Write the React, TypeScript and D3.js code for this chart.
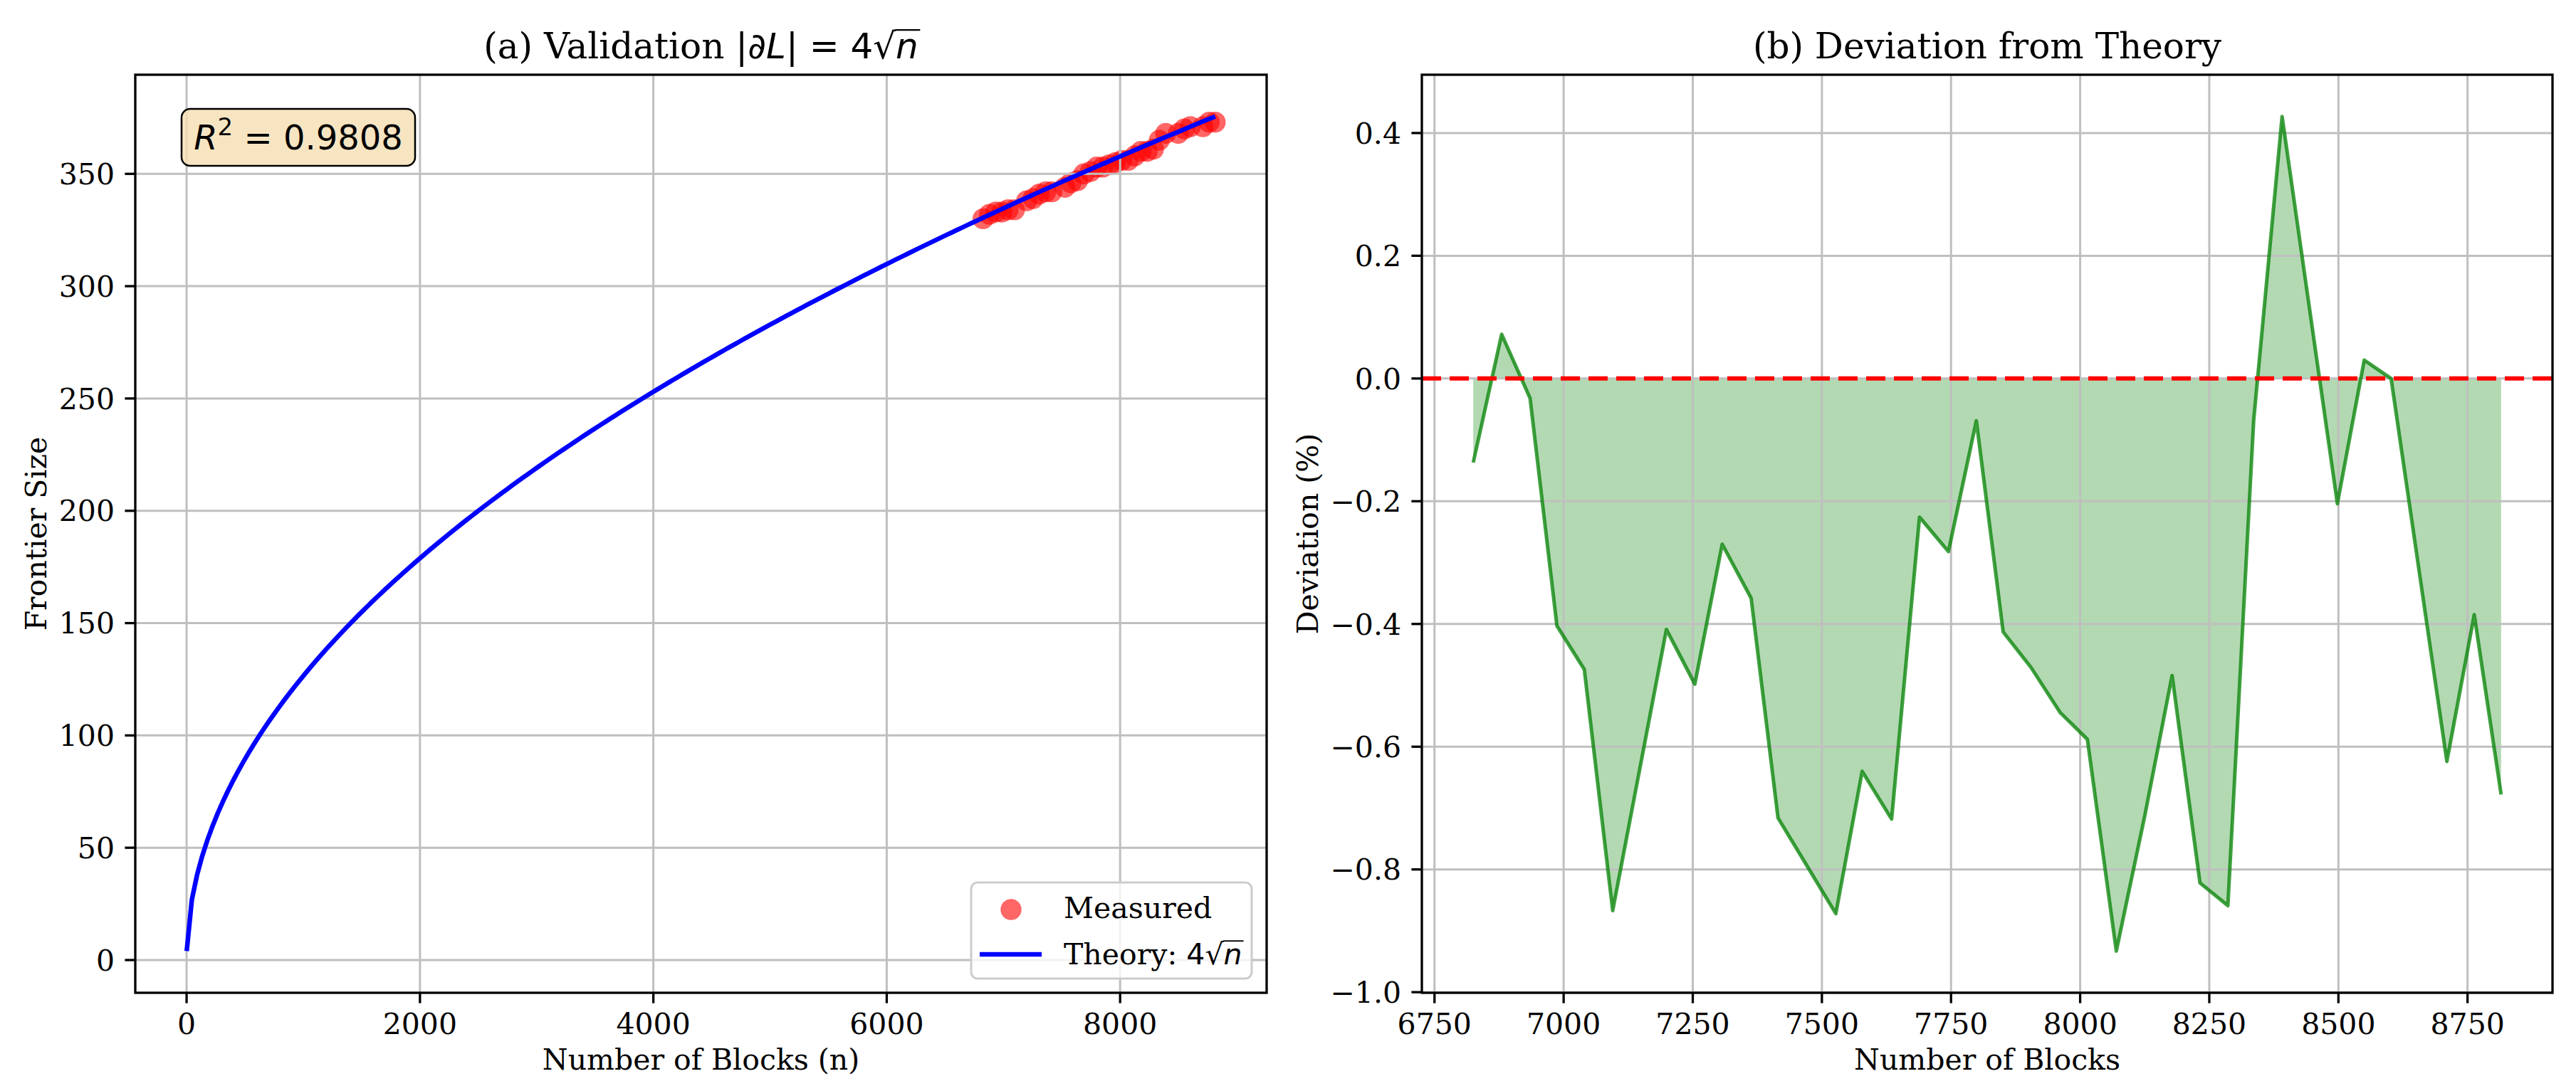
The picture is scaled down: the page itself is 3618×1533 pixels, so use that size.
import * as d3 from 'd3'
import { useEffect, useRef } from 'react'

const W = 3618
const H = 1533

// block counts where the frontier was measured
const blocks = [
  6825, 6880, 6935, 6987, 7040, 7095, 7199, 7254, 7307, 7363, 7415, 7527, 7578, 7635, 7689, 7745, 7799,
  7851, 7905, 7961, 8014, 8070, 8125, 8178, 8232, 8286, 8336, 8391, 8498, 8550, 8602, 8710, 8763, 8815,
]
// measured frontier sizes
const measured = [
  330, 332, 333, 333, 334, 334, 338, 339, 341, 342, 342, 344, 346, 347, 350, 351, 353,
  353, 354, 355, 356, 356, 358, 360, 360, 361, 365, 368, 368, 370, 371, 371, 373, 373,
]
// deviation from theory in percent
const deviation = [
  -0.137, 0.072, -0.032, -0.403, -0.474, -0.867, -0.409, -0.498, -0.27, -0.358, -0.716, -0.872, -0.64,
  -0.718, -0.226, -0.282, -0.069, -0.413, -0.471, -0.544, -0.588, -0.933, -0.713, -0.484, -0.822, -0.859,
  -0.068, 0.427, -0.204, 0.03, 0.0, -0.624, -0.385, -0.678,
]
const leftXTicks = [0, 2000, 4000, 6000, 8000]
const leftYTicks = [0, 50, 100, 150, 200, 250, 300, 350]
const rightXTicks = [6750, 7000, 7250, 7500, 7750, 8000, 8250, 8500, 8750]
const rightYTicks = [-1.0, -0.8, -0.6, -0.4, -0.2, 0.0, 0.2, 0.4]
const r2Text = '0.9808'

// theory curve 4*sqrt(n), sampled like np.linspace(1, n_max, 200)
const nMax = d3.max(blocks) as number
const theoryN = d3.range(200).map(i => 1 + ((nMax - 1) * i) / 199)
const theory = (n: number) => 4 * Math.sqrt(n)

const SERIF = '"DejaVu Serif", "Liberation Serif", serif'
const SANS = '"DejaVu Sans", "Liberation Sans", sans-serif'
const TICK_FS = 41
const LABEL_FS = 41
const TITLE_FS = 50
const GRID = '#bfbfbf'

type Seg = { t: string; fam?: string; it?: boolean; size?: number; dy?: number; over?: boolean }

function rich(
  parent: d3.Selection<SVGGElement, unknown, null, undefined>,
  x: number,
  y: number,
  segs: Seg[],
  size: number,
  anchor: 'start' | 'middle',
) {
  const g = parent.append('g')
  let cx = 0
  let prevRadical = 0
  segs.forEach(s => {
    const fs = s.size ?? size
    const t = g
      .append('text')
      .attr('x', cx)
      .attr('y', s.dy ?? 0)
      .attr('font-family', s.fam ?? SERIF)
      .attr('font-size', fs)
      .attr('font-style', s.it ? 'italic' : 'normal')
      .style('white-space', 'pre')
      .attr('fill', '#000')
      .text(s.t)
    const w = (t.node() as SVGTextElement).getComputedTextLength()
    if (s.over) {
      g.append('line')
        .attr('x1', prevRadical - fs * 0.02)
        .attr('x2', cx + w + fs * 0.05)
        .attr('y1', -fs * 0.8)
        .attr('y2', -fs * 0.8)
        .attr('stroke', '#000')
        .attr('stroke-width', fs * 0.045)
    }
    if (s.t === '√') prevRadical = cx + w
    cx += w
  })
  const off = anchor === 'middle' ? -cx / 2 : 0
  g.attr('transform', `translate(${x + off},${y})`)
  return g
}

function frame(
  g: d3.Selection<SVGGElement, unknown, null, undefined>,
  x: d3.ScaleLinear<number, number>,
  y: d3.ScaleLinear<number, number>,
  xTicks: number[],
  yTicks: number[],
  fx: (v: number) => string,
  fy: (v: number) => string,
) {
  const [x0, x1] = x.range()
  const [y1, y0] = y.range()
  const tickG = g.append('g')
  tickG
    .append('rect')
    .attr('x', x0)
    .attr('y', y0)
    .attr('width', x1 - x0)
    .attr('height', y1 - y0)
    .attr('fill', 'none')
    .attr('stroke', '#000')
    .attr('stroke-width', 3.3)
  xTicks.forEach(t => {
    tickG
      .append('line')
      .attr('x1', x(t))
      .attr('x2', x(t))
      .attr('y1', y1)
      .attr('y2', y1 + 14.6)
      .attr('stroke', '#000')
      .attr('stroke-width', 3.3)
    tickG
      .append('text')
      .attr('x', x(t))
      .attr('y', y1 + 58)
      .attr('text-anchor', 'middle')
      .attr('font-family', SERIF)
      .attr('font-size', TICK_FS)
      .text(fx(t))
  })
  yTicks.forEach(t => {
    tickG
      .append('line')
      .attr('x1', x0 - 14.6)
      .attr('x2', x0)
      .attr('y1', y(t))
      .attr('y2', y(t))
      .attr('stroke', '#000')
      .attr('stroke-width', 3.3)
    tickG
      .append('text')
      .attr('x', x0 - 29)
      .attr('y', y(t))
      .attr('dy', '0.36em')
      .attr('text-anchor', 'end')
      .attr('font-family', SERIF)
      .attr('font-size', TICK_FS)
      .text(fy(t))
  })
}

function grid(
  g: d3.Selection<SVGGElement, unknown, null, undefined>,
  x: d3.ScaleLinear<number, number>,
  y: d3.ScaleLinear<number, number>,
  xTicks: number[],
  yTicks: number[],
) {
  const [x0, x1] = x.range()
  const [y1, y0] = y.range()
  const gg = g.append('g').attr('stroke', GRID).attr('stroke-width', 3)
  xTicks.forEach(t => gg.append('line').attr('x1', x(t)).attr('x2', x(t)).attr('y1', y0).attr('y2', y1))
  yTicks.forEach(t => gg.append('line').attr('x1', x0).attr('x2', x1).attr('y1', y(t)).attr('y2', y(t)))
}

export default function App() {
  const ref = useRef<SVGSVGElement>(null)

  useEffect(() => {
    const svg = d3.select(ref.current)
    svg.selectAll('*').remove()
    const root = svg.append('g') as unknown as d3.Selection<SVGGElement, unknown, null, undefined>

    const top = 105
    const bottom = 1395

    // ---------- (a) validation ----------
    const lx0 = 190
    const lx1 = 1779
    const xlMin = 1
    const xlPad = (nMax - xlMin) * 0.05
    const xL = d3.scaleLinear().domain([xlMin - xlPad, nMax + xlPad]).range([lx0, lx1])
    const yMinL = theory(1)
    const yMaxL = Math.max(d3.max(measured) as number, theory(nMax))
    const ylPad = (yMaxL - yMinL) * 0.05
    const yL = d3.scaleLinear().domain([yMinL - ylPad, yMaxL + ylPad]).range([bottom, top])

    const a = root.append('g')
    a.append('g')
      .selectAll('circle')
      .data(blocks)
      .join('circle')
      .attr('cx', d => xL(d))
      .attr('cy', (_, i) => yL(measured[i]))
      .attr('r', 14.7)
      .attr('fill', '#ff0000')
      .attr('fill-opacity', 0.6)
    grid(a, xL, yL, leftXTicks, leftYTicks)
    const line = d3
      .line<number>()
      .x(d => xL(d))
      .y(d => yL(theory(d)))
    a.append('path')
      .attr('d', line(theoryN) ?? '')
      .attr('fill', 'none')
      .attr('stroke', '#0000ff')
      .attr('stroke-width', 6.5)
    frame(a, xL, yL, leftXTicks, leftYTicks, d3.format('d'), d3.format('d'))

    // R^2 box
    a.append('rect')
      .attr('x', 255)
      .attr('y', 153)
      .attr('width', 328)
      .attr('height', 80)
      .attr('rx', 12)
      .attr('fill', '#f5deb3')
      .attr('fill-opacity', 0.8)
      .attr('stroke', '#000')
      .attr('stroke-width', 2.5)
    rich(
      a,
      419,
      210,
      [
        { t: 'R', fam: SANS, it: true },
        { t: '2', fam: SANS, size: 34, dy: -20 },
        { t: ' = ' + r2Text, fam: SANS },
      ],
      48,
      'middle',
    )

    // legend
    const lg = a.append('g')
    lg.append('rect')
      .attr('x', 1364)
      .attr('y', 1240)
      .attr('width', 394)
      .attr('height', 135)
      .attr('rx', 9)
      .attr('fill', '#fff')
      .attr('fill-opacity', 0.8)
      .attr('stroke', '#cccccc')
      .attr('stroke-width', 3)
    lg.append('circle').attr('cx', 1420).attr('cy', 1278).attr('r', 14.7).attr('fill', '#ff0000').attr('fill-opacity', 0.6)
    lg.append('line')
      .attr('x1', 1376)
      .attr('x2', 1463)
      .attr('y1', 1341)
      .attr('y2', 1341)
      .attr('stroke', '#0000ff')
      .attr('stroke-width', 6.5)
    rich(lg, 1494, 1290, [{ t: 'Measured' }], LABEL_FS, 'start')
    rich(
      lg,
      1494,
      1355,
      [
        { t: 'Theory: ' },
        { t: '4', fam: SANS },
        { t: '√', fam: SANS },
        { t: 'n', fam: SANS, it: true, over: true },
      ],
      LABEL_FS,
      'start',
    )

    rich(
      a,
      (lx0 + lx1) / 2,
      82,
      [
        { t: '(a) Validation ' },
        { t: '|∂', fam: SANS },
        { t: 'L', fam: SANS, it: true },
        { t: '| = 4', fam: SANS },
        { t: '√', fam: SANS },
        { t: 'n', fam: SANS, it: true, over: true },
      ],
      TITLE_FS,
      'middle',
    )
    a.append('text')
      .attr('x', (lx0 + lx1) / 2)
      .attr('y', 1503)
      .attr('text-anchor', 'middle')
      .attr('font-family', SERIF)
      .attr('font-size', LABEL_FS)
      .text('Number of Blocks (n)')
    a.append('text')
      .attr('transform', `translate(65,${(top + bottom) / 2}) rotate(-90)`)
      .attr('text-anchor', 'middle')
      .attr('font-family', SERIF)
      .attr('font-size', LABEL_FS)
      .text('Frontier Size')

    // ---------- (b) deviation ----------
    const rx0 = 1997
    const rx1 = 3585
    const [bMin, bMax] = d3.extent(blocks) as [number, number]
    const xrPad = (bMax - bMin) * 0.05
    const xR = d3.scaleLinear().domain([bMin - xrPad, bMax + xrPad]).range([rx0, rx1])
    const [dMin, dMax] = d3.extent(deviation) as [number, number]
    const yrPad = (dMax - dMin) * 0.05
    const yR = d3.scaleLinear().domain([dMin - yrPad, dMax + yrPad]).range([bottom, top])

    const b = root.append('g')
    const area = d3
      .area<number>()
      .x(d => xR(d))
      .y0(yR(0))
      .y1((_, i) => yR(deviation[i]))
    b.append('path').attr('d', area(blocks) ?? '').attr('fill', '#008000').attr('fill-opacity', 0.3)
    grid(b, xR, yR, rightXTicks, rightYTicks)
    const devLine = d3
      .line<number>()
      .x(d => xR(d))
      .y((_, i) => yR(deviation[i]))
    b.append('path')
      .attr('d', devLine(blocks) ?? '')
      .attr('fill', 'none')
      .attr('stroke', '#008000')
      .attr('stroke-opacity', 0.75)
      .attr('stroke-width', 5)
      .attr('stroke-linejoin', 'round')
    b.append('line')
      .attr('x1', rx0)
      .attr('x2', rx1)
      .attr('y1', yR(0))
      .attr('y2', yR(0))
      .attr('stroke', '#ff0000')
      .attr('stroke-width', 6)
      .attr('stroke-dasharray', '27 12')
    frame(b, xR, yR, rightXTicks, rightYTicks, d3.format('d'), d3.format('.1f'))

    rich(b, (rx0 + rx1) / 2, 82, [{ t: '(b) Deviation from Theory' }], TITLE_FS, 'middle')
    b.append('text')
      .attr('x', (rx0 + rx1) / 2)
      .attr('y', 1503)
      .attr('text-anchor', 'middle')
      .attr('font-family', SERIF)
      .attr('font-size', LABEL_FS)
      .text('Number of Blocks')
    b.append('text')
      .attr('transform', `translate(1851,${(top + bottom) / 2}) rotate(-90)`)
      .attr('text-anchor', 'middle')
      .attr('font-family', SERIF)
      .attr('font-size', LABEL_FS)
      .text('Deviation (%)')
  }, [])

  return (
    <svg
      ref={ref}
      width={W}
      height={H}
      style={{ position: 'absolute', left: 0, top: 0, background: '#fff' }}
    />
  )
}
